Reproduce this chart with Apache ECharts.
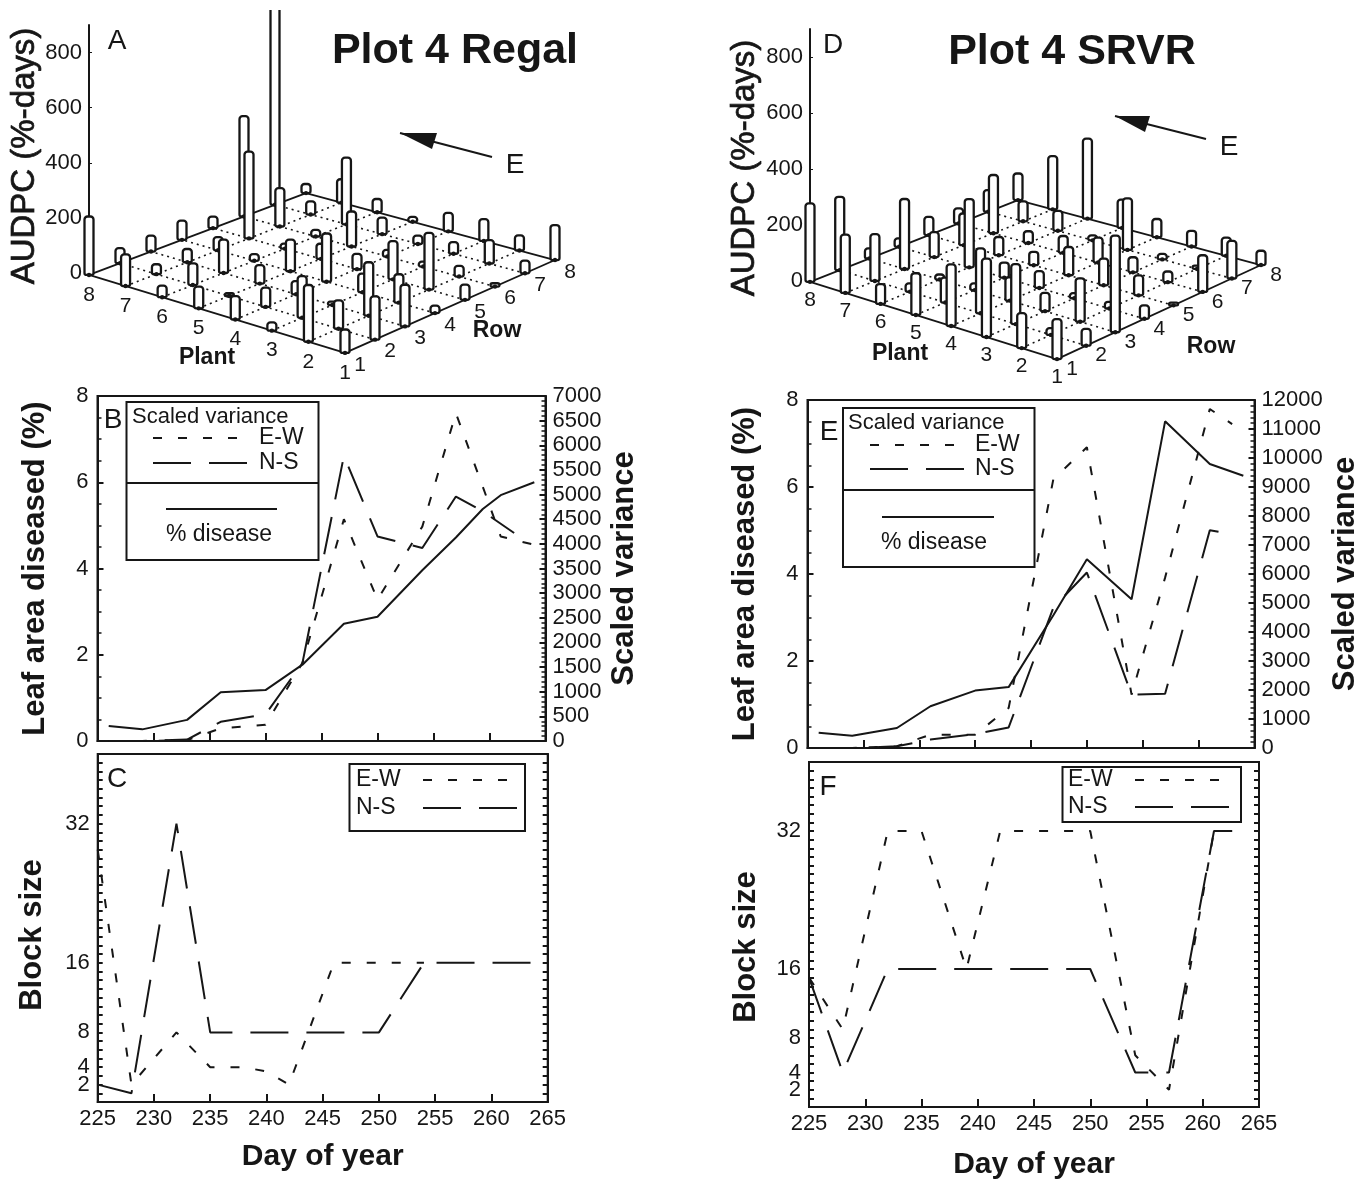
<!DOCTYPE html>
<html>
<head>
<meta charset="utf-8">
<title>Plot 4 Regal / SRVR</title>
<script src="https://cdn.jsdelivr.net/npm/echarts@6/dist/echarts.min.js"></script>
<style>
  html, body { margin: 0; padding: 0; background: #fff; }
  #chart { width: 1356px; height: 1180px; }
</style>
</head>
<body>
<div id="chart"></div>
<script>
const plants = [8, 7, 6, 5, 4, 3, 2, 1];
const rows = [1, 2, 3, 4, 5, 6, 7, 8];

// AUDPC, one line per plant (8 down to 1), one column per row (1 to 8)
const regalAudpc = [
  [212, 55, 58, 70, 42, 364, 760, 33],
  [115, 36, 48, 48, 315, 139, 48, 85],
  [42, 79, 121, 24, 18, 24, 242, 48],
  [79, 10, 67, 115, 55, 127, 60, 18],
  [85, 70, 48, 175, 55, 24, 30, 67],
  [30, 151, 12, 67, 139, 18, 42, 79],
  [206, 103, 194, 103, 206, 39, 85, 55],
  [85, 157, 151, 27, 55, 12, 46, 127]
];
const srvrAudpc = [
  [280, 262, 36, 30, 65, 54, 77, 95],
  [208, 167, 250, 89, 113, 208, 71, 190],
  [71, 30, 18, 244, 65, 42, 71, 286],
  [149, 89, 24, 54, 48, 60, 18, 101],
  [220, 232, 83, 60, 101, 89, 184, 65],
  [280, 214, 65, 18, 95, 54, 20, 56],
  [125, 24, 155, 24, 71, 38, 12, 65],
  [143, 60, 345, 48, 10, 131, 134, 51]
];

// Panel B
const regalDiseaseDays = [226, 229, 233, 236, 240, 243.3, 247, 250, 254, 257, 259.4, 261, 264];
const regalDisease = [0.35, 0.27, 0.49, 1.13, 1.18, 1.77, 2.72, 2.88, 3.96, 4.72, 5.38, 5.7, 6.0];
const regalVarEWDays = [226, 229, 233, 236, 240, 243.3, 247, 250, 254, 257, 259.4, 261, 264];
const regalVarEW = [0, 0, 20, 256, 330, 1586, 4500, 2870, 4350, 6650, 5160, 4150, 3980];
const regalVarNSDays = [226, 229, 233, 236, 240, 243.3, 247, 250, 254, 257, 259.4, 262.2];
const regalVarNS = [0, 0, 30, 390, 540, 1586, 5785, 4150, 3915, 4960, 4660, 4220];

// Panel E
const srvrDiseaseDays = [226, 229, 233, 236, 240, 243, 247, 250, 254, 257, 261, 264];
const srvrDisease = [0.35, 0.28, 0.46, 0.96, 1.32, 1.40, 3.05, 4.34, 3.42, 7.51, 6.53, 6.26];
const srvrVarEWDays = [226, 229, 233, 236, 240, 243, 247, 250, 254, 257, 261, 263];
const srvrVarEW = [0, 0, 60, 460, 460, 1380, 9270, 10370, 1840, 5875, 11690, 11170];
const srvrVarNSDays = [226, 229, 233, 236, 240, 243, 247, 250, 254, 257, 261, 263];
const srvrVarNS = [0, 0, 60, 290, 480, 710, 4840, 6050, 1840, 1870, 7510, 7370];

// Panel C
const regalBlockEWDays = [225, 228, 232, 235, 238, 240, 242, 246, 250, 254];
const regalBlockEW = [29, 2, 8, 4, 4, 3.5, 2, 16, 16, 16];
const regalBlockNSDays = [225, 228, 232, 235, 250, 254, 265];
const regalBlockNS = [2, 1, 32, 8, 8, 16, 16];

// Panel F
const srvrBlockEWDays = [225, 228, 232, 235, 239, 242, 250, 254, 257, 261, 263];
const srvrBlockEW = [15, 9, 32, 32, 16, 32, 32, 6, 2, 32, 32];
const srvrBlockNSDays = [225, 228, 232, 250, 254, 257, 261, 263];
const srvrBlockNS = [15, 4, 16, 16, 4, 4, 32, 32];

const blockTicks = [2, 4, 8, 16, 32];

const INK = '#161616';
const SANS = '"Liberation Sans", Arial, sans-serif';
const DASH_EW = [9, 16];
const DASH_NS = [38, 18];

// ---------- 3D-looking floor: x in px from the axis, y in AUDPC units ----------
const regalFloor = { left: [0, -7], front: [256, -290], right: [466, 47], back: [217, 290] };
const srvrFloor = { left: [0, -3], front: [247, -279], right: [451, 57], back: [208, 289] };

function floorPoint(api, floor, plant, row, height) {
  const u = (8 - plant) / 7;
  const v = (row - 1) / 7;
  const mix = k => (1 - u) * (1 - v) * floor.left[k] + u * (1 - v) * floor.front[k] +
    u * v * floor.right[k] + (1 - u) * v * floor.back[k];
  return api.coord([mix(0), mix(1) + (height || 0)]);
}

function floorLineSeries(floor, gridIdx) {
  const data = [];
  for (let n = 1; n <= 8; n++) {
    data.push([n, 1, n, 8, n === 1 || n === 8 ? 1 : 0]);
    data.push([1, n, 8, n, n === 1 || n === 8 ? 1 : 0]);
  }
  return {
    type: 'custom', xAxisIndex: gridIdx, yAxisIndex: gridIdx, silent: true, z: 2,
    data: data,
    renderItem: (params, api) => {
      const a = floorPoint(api, floor, api.value(0), api.value(1));
      const b = floorPoint(api, floor, api.value(2), api.value(3));
      const solid = api.value(4) === 1;
      return {
        type: 'line',
        shape: { x1: a[0], y1: a[1], x2: b[0], y2: b[1] },
        style: { stroke: INK, lineWidth: solid ? 1.8 : 1.6, lineDash: solid ? null : [2, 4] }
      };
    }
  };
}

function floorBarSeries(floor, values, gridIdx) {
  const data = [];
  plants.forEach((p, i) => rows.forEach((r, j) => data.push([p, r, values[i][j]])));
  // back of the plot first, so that nearer bars cover the farther ones
  data.sort((a, b) => ((8 - a[0]) - (a[1] - 1)) - ((8 - b[0]) - (b[1] - 1)));
  return {
    type: 'custom', xAxisIndex: gridIdx, yAxisIndex: gridIdx, silent: true, z: 3,
    data: data,
    renderItem: (params, api) => {
      const base = floorPoint(api, floor, api.value(0), api.value(1));
      const top = floorPoint(api, floor, api.value(0), api.value(1), api.value(2));
      const w = 9;
      return {
        type: 'group',
        // the tallest bar runs off the top of the original plot
        clipPath: { type: 'rect', shape: { x: 0, y: 10, width: 1356, height: 1170 } },
        children: [
          {
            type: 'rect',
            shape: { x: base[0] - w / 2, y: top[1], width: w, height: base[1] - top[1], r: [3, 3, 2, 2] },
            style: { fill: '#fff', stroke: INK, lineWidth: 2.3 }
          },
          {
            type: 'circle',
            shape: { cx: base[0], cy: base[1], r: 2.2 },
            style: { fill: INK }
          }
        ]
      };
    }
  };
}

function floorLabelSeries(floor, gridIdx, plantOff, rowOff) {
  const data = [];
  rows.forEach(n => { data.push([n, 1, 0]); data.push([1, n, 1]); });
  return {
    type: 'custom', xAxisIndex: gridIdx, yAxisIndex: gridIdx, silent: true, z: 4,
    data: data,
    renderItem: (params, api) => {
      const isRow = api.value(2) === 1;
      const p = floorPoint(api, floor, api.value(0), api.value(1));
      const off = isRow ? rowOff : plantOff;
      return {
        type: 'text',
        style: {
          text: String(isRow ? api.value(1) : api.value(0)),
          x: p[0] + off[0], y: p[1] + off[1],
          fill: INK, font: '21px ' + SANS, align: 'center', verticalAlign: 'middle'
        }
      };
    }
  };
}

// ---------- grids and axes ----------
const framed = { show: true, borderColor: INK, borderWidth: 2, outerBoundsMode: 'none' };
const grids = [
  { left: 89, top: 25, width: 256, height: 248, outerBoundsMode: 'none' },
  { left: 810, top: 29, width: 247, height: 252, outerBoundsMode: 'none' },
  { left: 97.5, top: 396, width: 448, height: 345, ...framed },
  { left: 807.5, top: 400, width: 447, height: 348, ...framed },
  { left: 97.7, top: 754, width: 450, height: 348, ...framed },
  { left: 809, top: 762, width: 450, height: 345, ...framed }
];

function hiddenX(gridIndex, max) {
  return { type: 'value', gridIndex, min: 0, max, show: false };
}
function audpcY(gridIndex) {
  return {
    type: 'value', gridIndex, min: 0, max: 900, interval: 200, position: 'left',
    splitLine: { show: false },
    axisLine: { show: true, onZero: false, lineStyle: { color: INK, width: 2 } },
    axisTick: { show: true, inside: true, length: 3, lineStyle: { color: INK } },
    axisLabel: { color: INK, fontFamily: SANS, fontSize: 22, margin: 7, showMaxLabel: false }
  };
}
function dayX(gridIndex, withLabels, name, gap) {
  return {
    type: 'value', gridIndex, min: 225, max: 265, interval: 5,
    name: name, nameLocation: 'middle', nameGap: gap,
    nameTextStyle: { color: INK, fontFamily: SANS, fontSize: 30, fontWeight: 'bold' },
    splitLine: { show: false },
    axisLine: { show: true, onZero: false, lineStyle: { color: INK, width: 2 } },
    axisTick: { show: true, inside: true, length: 8, lineStyle: { color: INK, width: 2 } },
    axisLabel: { show: withLabels, color: INK, fontFamily: SANS, fontSize: 22, margin: 6 }
  };
}
function diseaseY(gridIndex) {
  return {
    type: 'value', gridIndex, min: 0, max: 8, interval: 2, position: 'left',
    name: 'Leaf area diseased (%)', nameLocation: 'middle', nameGap: 47,
    nameTextStyle: { color: INK, fontFamily: SANS, fontSize: 31, fontWeight: 'bold' },
    splitLine: { show: false },
    axisLine: { show: true, lineStyle: { color: INK, width: 2 } },
    axisTick: { show: true, inside: true, length: 6, lineStyle: { color: INK, width: 2 } },
    minorTick: { show: true, splitNumber: 4, length: 4, lineStyle: { color: INK, width: 1.5 } },
    axisLabel: { color: INK, fontFamily: SANS, fontSize: 22, margin: 9 }
  };
}
function varianceY(gridIndex, max, interval, gap) {
  return {
    type: 'value', gridIndex, min: 0, max, interval, position: 'right',
    name: 'Scaled variance', nameLocation: 'middle', nameGap: gap, nameRotate: 90,
    nameTextStyle: { color: INK, fontFamily: SANS, fontSize: 31, fontWeight: 'bold' },
    splitLine: { show: false },
    axisLine: { show: true, lineStyle: { color: INK, width: 2 } },
    axisTick: { show: true, inside: true, length: 6, lineStyle: { color: INK, width: 2 } },
    minorTick: { show: true, splitNumber: 5, length: 4, lineStyle: { color: INK, width: 1.5 } },
    axisLabel: { color: INK, fontFamily: SANS, fontSize: 22, margin: 7, formatter: v => String(v) }
  };
}
function blockY(gridIndex, position, withLabels) {
  return {
    type: 'value', gridIndex, min: 0, max: 40, interval: 1, position,
    splitLine: { show: false },
    axisLine: { show: true, lineStyle: { color: INK, width: 2 } },
    axisTick: { show: true, inside: true, length: 5, lineStyle: { color: INK, width: 2 } },
    axisLabel: {
      show: withLabels, color: INK, fontFamily: SANS, fontSize: 22, margin: 8,
      formatter: v => blockTicks.includes(v) ? String(v) : ''
    }
  };
}

const xAxes = [
  hiddenX(0, 256),
  hiddenX(1, 247),
  dayX(2, false),
  dayX(3, false),
  dayX(4, true, 'Day of year', 40),
  dayX(5, true, 'Day of year', 43)
];
const yAxes = [
  audpcY(0),
  audpcY(1),
  diseaseY(2),
  diseaseY(3),
  blockY(4, 'left', true),
  blockY(5, 'left', true),
  varianceY(2, 7000, 500, 63),
  varianceY(3, 12000, 1000, 75),
  blockY(4, 'right', false),
  blockY(5, 'right', false)
];

// ---------- line series ----------
function zip(days, values) {
  return days.map((d, i) => [d, values[i]]);
}
function lineSeries(name, days, values, xIdx, yIdx, dash) {
  return {
    name, type: 'line', xAxisIndex: xIdx, yAxisIndex: yIdx, data: zip(days, values),
    showSymbol: false, symbol: 'none', silent: true, z: 3,
    lineStyle: { color: INK, width: 2, type: dash || 'solid' }
  };
}

const seriesList = [
  floorLineSeries(regalFloor, 0),
  floorBarSeries(regalFloor, regalAudpc, 0),
  floorLabelSeries(regalFloor, 0, [0, 20], [15, 12]),
  floorLineSeries(srvrFloor, 1),
  floorBarSeries(srvrFloor, srvrAudpc, 1),
  floorLabelSeries(srvrFloor, 1, [0, 18], [15, 10]),
  lineSeries('% disease', regalDiseaseDays, regalDisease, 2, 2),
  lineSeries('E-W', regalVarEWDays, regalVarEW, 2, 6, DASH_EW),
  lineSeries('N-S', regalVarNSDays, regalVarNS, 2, 6, DASH_NS),
  lineSeries('% disease', srvrDiseaseDays, srvrDisease, 3, 3),
  lineSeries('E-W', srvrVarEWDays, srvrVarEW, 3, 7, DASH_EW),
  lineSeries('N-S', srvrVarNSDays, srvrVarNS, 3, 7, DASH_NS),
  lineSeries('E-W', regalBlockEWDays, regalBlockEW, 4, 4, DASH_EW),
  lineSeries('N-S', regalBlockNSDays, regalBlockNS, 4, 4, DASH_NS),
  lineSeries('E-W', srvrBlockEWDays, srvrBlockEW, 5, 5, DASH_EW),
  lineSeries('N-S', srvrBlockNSDays, srvrBlockNS, 5, 5, DASH_NS)
];

// ---------- annotations ----------
function txt(text, x, y, size, opts) {
  opts = opts || {};
  return {
    type: 'text', x, y, rotation: opts.rotation || 0, z: 20,
    style: {
      text, fill: INK, font: (opts.bold ? 'bold ' : '') + size + 'px ' + SANS,
      stroke: opts.heavy ? INK : null, lineWidth: opts.heavy || 0,
      textAlign: opts.align || 'center', textVerticalAlign: 'middle'
    }
  };
}
function seg(x1, y1, x2, y2, dash, width) {
  return {
    type: 'line', z: 20,
    shape: { x1, y1, x2, y2 },
    style: { stroke: INK, lineWidth: width || 2, lineDash: dash || null }
  };
}
function arrow(tail, tip, headBase1, headBase2) {
  return [
    seg(tail[0], tail[1], tip[0], tip[1], null, 2),
    { type: 'polygon', z: 20, shape: { points: [tip, headBase1, headBase2] }, style: { fill: INK } }
  ];
}
function box(x1, y1, x2, y2) {
  return {
    type: 'rect', z: 15,
    shape: { x: x1, y: y1, width: x2 - x1, height: y2 - y1 },
    style: { fill: '#fff', stroke: INK, lineWidth: 2 }
  };
}

const graphics = [
  txt('Plot 4 Regal', 455, 51, 43, { bold: true }),
  txt('Plot 4 SRVR', 1072, 52, 43, { bold: true }),
  txt('AUDPC (%-days)', 25, 156, 33, { rotation: Math.PI / 2, heavy: 0.7 }),
  txt('AUDPC (%-days)', 745, 168, 33, { rotation: Math.PI / 2, heavy: 0.7 }),
  txt('Block size', 32, 935, 31, { rotation: Math.PI / 2, bold: true }),
  txt('Block size', 746, 947, 31, { rotation: Math.PI / 2, bold: true }),
  txt('A', 117, 41, 28), txt('D', 833, 45, 28),
  txt('B', 113, 420, 28), txt('E', 829, 432, 28),
  txt('C', 117, 779, 28), txt('F', 828, 787, 28),
  txt('E', 515, 165, 28), txt('E', 1229, 147, 28),
  txt('Plant', 207, 358, 23, { bold: true }), txt('Row', 497, 331, 23, { bold: true }),
  txt('Plant', 900, 354, 23, { bold: true }), txt('Row', 1211, 347, 23, { bold: true }),
  ...arrow([492, 157], [400, 133], [437, 133], [432, 149]),
  ...arrow([1206, 139], [1115, 116], [1150, 116], [1145, 132]),

  // legend B
  box(126.5, 402, 318.5, 560), seg(126.5, 483, 318.5, 483),
  txt('Scaled variance', 132, 417, 22, { align: 'left' }),
  seg(153, 438, 249, 438, DASH_EW), txt('E-W', 259, 438, 23, { align: 'left' }),
  seg(153, 463, 249, 463, DASH_NS), txt('N-S', 259, 463, 23, { align: 'left' }),
  seg(166, 509, 277, 509), txt('% disease', 219, 535, 23),

  // legend E
  box(843, 408, 1034.5, 567), seg(843, 490, 1034.5, 490),
  txt('Scaled variance', 848, 423, 22, { align: 'left' }),
  seg(870, 445, 966, 445, DASH_EW), txt('E-W', 975, 445, 23, { align: 'left' }),
  seg(870, 469, 966, 469, DASH_NS), txt('N-S', 975, 469, 23, { align: 'left' }),
  seg(882, 517, 994, 517), txt('% disease', 934, 543, 23),

  // legend C
  box(349.5, 764, 525, 831),
  txt('E-W', 356, 780, 23, { align: 'left' }), seg(423, 780, 518, 780, DASH_EW),
  txt('N-S', 356, 808, 23, { align: 'left' }), seg(423, 808, 518, 808, DASH_NS),

  // legend F
  box(1062.5, 767, 1241, 822),
  txt('E-W', 1068, 780, 23, { align: 'left' }), seg(1135, 780, 1231, 780, DASH_EW),
  txt('N-S', 1068, 807, 23, { align: 'left' }), seg(1135, 807, 1231, 807, DASH_NS)
];

const myChart = echarts.init(document.getElementById('chart'));
myChart.setOption({
  backgroundColor: '#fff',
  animation: false,
  textStyle: { fontFamily: SANS },
  grid: grids,
  xAxis: xAxes,
  yAxis: yAxes,
  series: seriesList,
  graphic: { elements: graphics }
});
</script>
</body>
</html>
